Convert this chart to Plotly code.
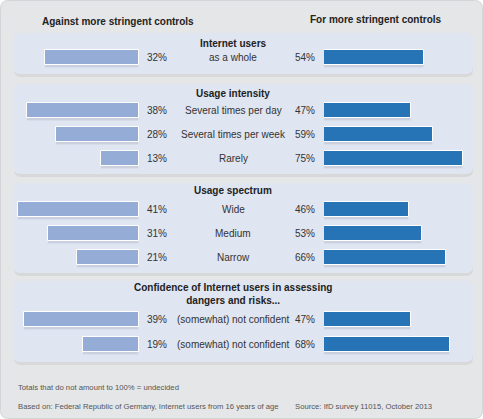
import plotly.graph_objects as go

# --- data ---
row_labels = ["as a whole",
              "Several times per day", "Several times per week", "Rarely",
              "Wide", "Medium", "Narrow",
              "(somewhat) not confident", "(somewhat) not confident"]
against = [32, 38, 28, 13, 41, 31, 21, 39, 19]
in_favour = [54, 47, 59, 75, 46, 53, 66, 47, 68]
group_titles = ["Internet users", "Usage intensity", "Usage spectrum",
                "Confidence of Internet users in assessing<br>dangers and risks..."]
header_left = "Against more stringent controls"
header_right = "For more stringent controls"
footnote = "Totals that do not amount to 100% = undecided"
basis = "Based on: Federal Republic of Germany, Internet users from 16 years of age"
source = "Source: IfD survey 11015, October 2013"

# --- layout (pixel positions) ---
W, H = 483, 419
row_y = [57, 110, 134, 158, 209, 233, 257, 319, 344]
panels = [(33, 74), (84, 174), (183, 273), (281, 362)]
title_y = [43, 93, 190, 294]
LEFT_EDGE, RIGHT_START = 139, 324
LEFT_PX, RIGHT_PX = 2.95, 1.85  # pixels per percent

C_LEFT = "#94acd6"
C_RIGHT = "#2674b6"
C_PANEL = "#dfe5f1"
C_BG = "#e5e6e8"
FONT = "Liberation Sans, Arial, sans-serif"


def px(x, y):
    return "%.5f,%.5f" % (x / W, 1 - y / H)


def rrect(x0, y0, x1, y1, r):
    return ("M" + px(x0 + r, y0) + " L" + px(x1 - r, y0) +
            " Q" + px(x1, y0) + " " + px(x1, y0 + r) +
            " L" + px(x1, y1 - r) +
            " Q" + px(x1, y1) + " " + px(x1 - r, y1) +
            " L" + px(x0 + r, y1) +
            " Q" + px(x0, y1) + " " + px(x0, y1 - r) +
            " L" + px(x0, y0 + r) +
            " Q" + px(x0, y0) + " " + px(x0 + r, y0) + " Z")


fig = go.Figure()

shadow_y = [y + 3 for y in row_y]
fig.add_trace(go.Bar(x=against, y=shadow_y, orientation="h", width=15,
                     xaxis="x", yaxis="y", marker_color="rgba(60,70,90,0.13)",
                     hoverinfo="skip"))
fig.add_trace(go.Bar(x=in_favour, y=shadow_y, orientation="h", width=15,
                     xaxis="x2", yaxis="y", marker_color="rgba(60,70,90,0.13)",
                     hoverinfo="skip"))
fig.add_trace(go.Bar(x=against, y=row_y, orientation="h", width=15,
                     xaxis="x", yaxis="y", marker=dict(color=C_LEFT, line=dict(color="white", width=1)),
                     name=header_left))
fig.add_trace(go.Bar(x=in_favour, y=row_y, orientation="h", width=15,
                     xaxis="x2", yaxis="y", marker=dict(color=C_RIGHT, line=dict(color="white", width=1)),
                     name=header_right))

shapes = [dict(type="path", path=rrect(0.5, 0.5, W - 0.5, H - 0.5, 8), xref="paper", yref="paper",
               fillcolor=C_BG, line=dict(color="#d4d5d8", width=1), layer="below")]
for y0, y1 in panels:
    shapes.append(dict(type="path", path=rrect(14, y0 + 3, 473, y1 + 3, 7), xref="paper", yref="paper",
                       fillcolor="rgba(0,0,0,0.06)", line=dict(width=0), layer="below"))
    shapes.append(dict(type="path", path=rrect(13, y0, 473, y1, 7), xref="paper", yref="paper",
                       fillcolor=C_PANEL, line=dict(width=0), layer="below"))

ann = []
txt = dict(family=FONT, size=10, color="#333333")
bold = dict(family=FONT, size=10, color="#222222")
for lab, a, f, y in zip(row_labels, against, in_favour, row_y):
    ann.append(dict(x=145 / W, y=y, xref="paper", yref="y", text=f"{a}%", showarrow=False,
                    xanchor="left", font=txt))
    ann.append(dict(x=317 / W, y=y, xref="paper", yref="y", text=f"{f}%", showarrow=False,
                    xanchor="right", font=txt))
    ann.append(dict(x=233 / W, y=y, xref="paper", yref="y", text=lab, showarrow=False,
                    xanchor="center", font=txt))
for t, y in zip(group_titles, title_y):
    ann.append(dict(x=233 / W, y=y, xref="paper", yref="y", text="<b>" + t + "</b>", showarrow=False,
                    xanchor="center", font=bold))
ann.append(dict(x=118 / W, y=21, xref="paper", yref="y", text="<b>" + header_left + "</b>",
                showarrow=False, xanchor="center", font=bold))
ann.append(dict(x=376 / W, y=19, xref="paper", yref="y", text="<b>" + header_right + "</b>",
                showarrow=False, xanchor="center", font=bold))
small = dict(family=FONT, size=7.7, color="#555555")
ann.append(dict(x=16 / W, y=387, xref="paper", yref="y", text=footnote, showarrow=False,
                xanchor="left", font=small))
ann.append(dict(x=16 / W, y=406, xref="paper", yref="y", text=basis, showarrow=False,
                xanchor="left", font=small))
ann.append(dict(x=293 / W, y=406, xref="paper", yref="y", text=source, showarrow=False,
                xanchor="left", font=small))

hidden = dict(visible=False, showgrid=False, zeroline=False, fixedrange=True)
fig.update_layout(
    width=W, height=H, margin=dict(l=0, r=0, t=0, b=0),
    paper_bgcolor="white", plot_bgcolor="rgba(0,0,0,0)",
    showlegend=False, barmode="overlay", bargap=0,
    xaxis=dict(domain=[0, LEFT_EDGE / W], range=[LEFT_EDGE / LEFT_PX, 0], anchor="y", **hidden),
    xaxis2=dict(domain=[RIGHT_START / W, 1], range=[0, (W - RIGHT_START) / RIGHT_PX], anchor="y", **hidden),
    yaxis=dict(domain=[0, 1], range=[H, 0], **hidden),
    shapes=shapes, annotations=ann,
)

# the page's default body margin would push the figure off the window
fig.write_html("out.html", config={"displayModeBar": False},
               post_script="document.body.style.margin='0';")
